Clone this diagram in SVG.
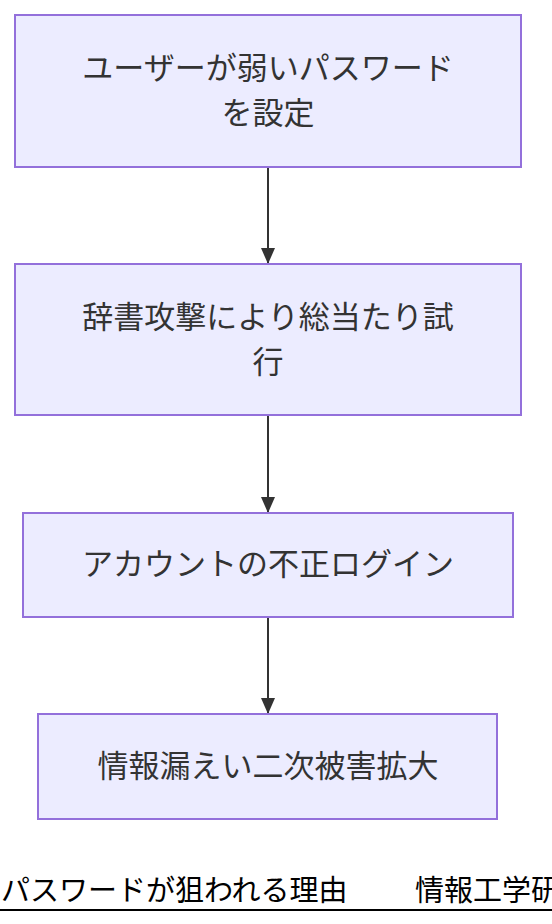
<svg xmlns="http://www.w3.org/2000/svg" width="552" height="924" viewBox="0 0 552 924">
  <style>
    .node rect { fill: #ECECFF; stroke: #9370DB; stroke-width: 2; }
    .node text { font-family: "Noto Sans CJK JP", "Noto Sans", sans-serif; font-size: 31px; fill: #333333; text-anchor: middle; }
    .edge { stroke: #333333; stroke-width: 2; fill: none; }
    .title { font-family: "Noto Sans CJK JP", "Noto Sans", sans-serif; font-size: 29px; fill: #000000; }
  </style>
  <defs>
    <marker id="arrow" viewBox="0 0 16 14" refX="16" refY="7" markerWidth="16" markerHeight="14" markerUnits="userSpaceOnUse" orient="auto">
      <path d="M0,0 L16,7 L0,14 Z" fill="#333333"/>
    </marker>
  </defs>
  <rect width="552" height="924" fill="#FFFFFF"/>
  <g id="connectors">
    <line class="edge" x1="268" y1="167" x2="268" y2="264" marker-end="url(#arrow)"/>
    <line class="edge" x1="268" y1="415" x2="268" y2="513" marker-end="url(#arrow)"/>
    <line class="edge" x1="268" y1="617" x2="268" y2="714" marker-end="url(#arrow)"/>
  </g>
  <g id="node1" class="node">
    <rect x="15" y="15" width="506" height="152"/>
    <text x="268" y="78.5">ユーザーが弱いパスワード</text>
    <text x="268" y="123.5">を設定</text>
  </g>
  <g id="node2" class="node">
    <rect x="15" y="264" width="506" height="151"/>
    <text x="268" y="327.5">辞書攻撃により総当たり試</text>
    <text x="268" y="372.5">行</text>
  </g>
  <g id="node3" class="node">
    <rect x="23" y="513" width="490" height="104"/>
    <text x="268" y="575">アカウントの不正ログイン</text>
  </g>
  <g id="node4" class="node">
    <rect x="38" y="714" width="459" height="105"/>
    <text x="268" y="777">情報漏えい二次被害拡大</text>
  </g>
  <g id="title">
    <text class="title" x="1" y="901">パスワードが狙われる理由　<tspan x="415">情報工学研</tspan></text>
    <line x1="0" y1="910" x2="552" y2="910" stroke="#000000" stroke-width="2"/>
  </g>
</svg>
